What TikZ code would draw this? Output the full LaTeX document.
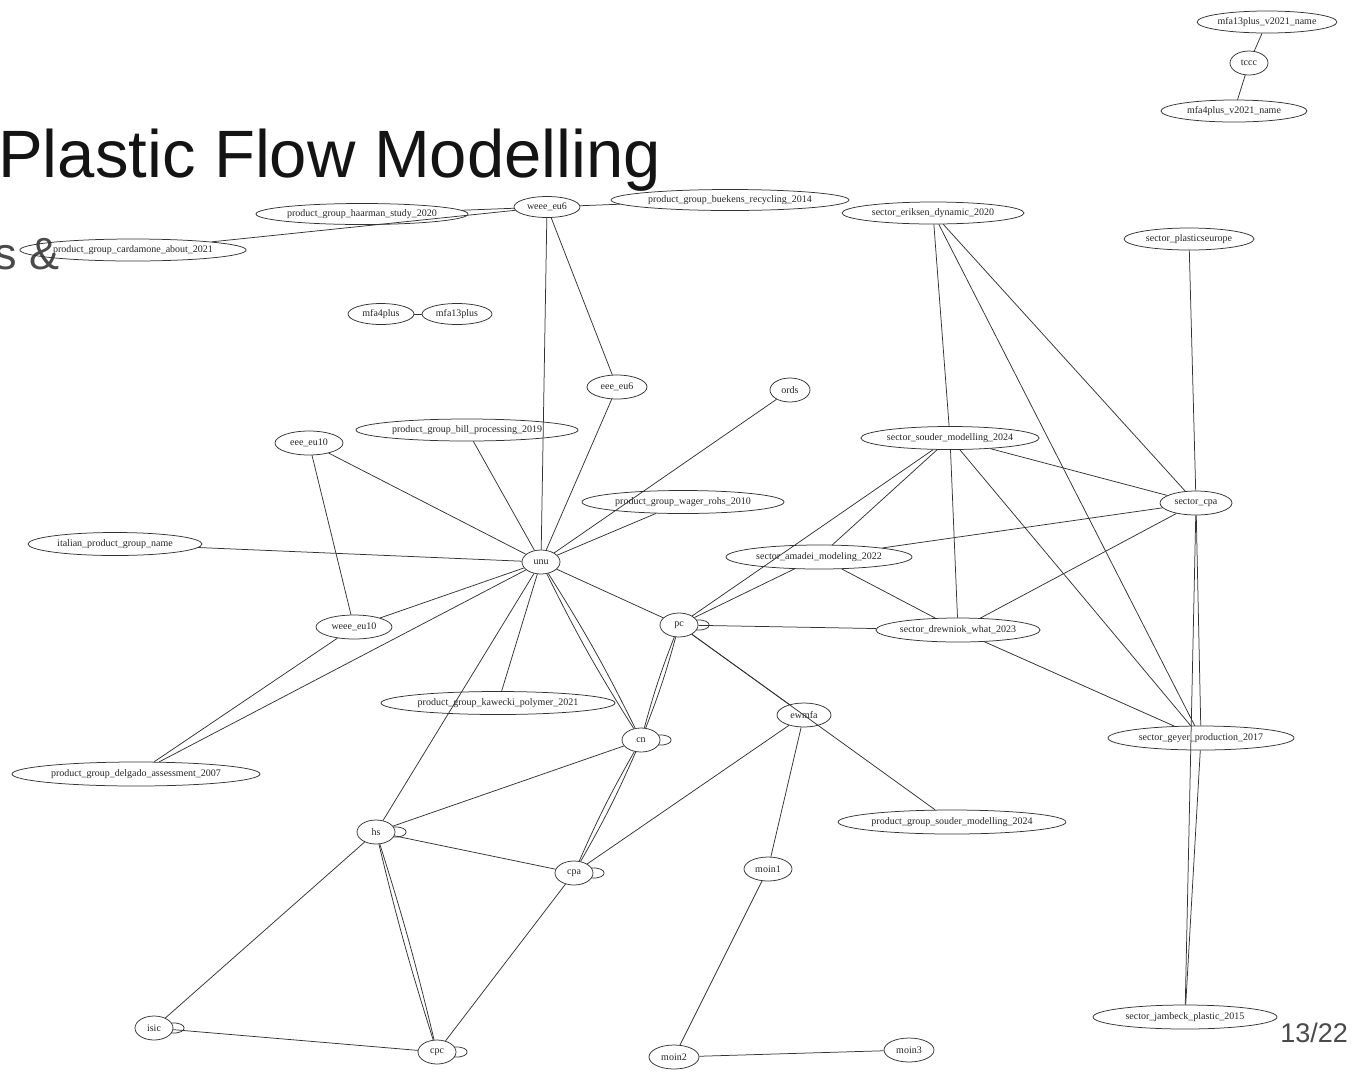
\documentclass[tikz,border=0pt]{standalone}
\usepackage{fontspec}
\setmainfont{Liberation Serif}
\newfontfamily\titlefont{Liberation Sans}
\usetikzlibrary{shapes.geometric}
\definecolor{edgecol}{HTML}{333333}
\definecolor{slidegray}{HTML}{4A4A4A}
\tikzset{
  gn/.style={ellipse, draw=edgecol, line width=0.75pt, inner sep=0pt, text=black!85, font=\fontsize{10}{12}\selectfont},
  ed/.style={draw=edgecol, line width=0.75pt},
}
\newcommand{\selfloop}[1]{\draw[ed] ([shift={(-2,-5)}]#1.east) .. controls +(17,-1) and +(17,1) .. ([shift={(-2,5)}]#1.east);}
\begin{document}
\begin{tikzpicture}[x=1pt,y=-1pt]
\fill[white] (0,0) rectangle (1357,1072);
\useasboundingbox (0,0) rectangle (1357,1072);

% slide texts
\node[anchor=base west, inner sep=0, font=\titlefont\fontsize{67}{80}\selectfont, text=black!92] (title) at (-2,177) {Plastic Flow Modelling};
\node[anchor=base west, inner sep=0, font=\titlefont\fontsize{45}{52}\selectfont, text=slidegray] (sub) at (-6,269) {s \&};
\node[anchor=base east, inner sep=0, font=\titlefont\fontsize{27}{32}\selectfont, text=slidegray] (page) at (1348,1042) {13/22};

% nodes
\node[gn, minimum width=126, minimum height=22] (m13v) at (1267,22) {mfa13plus\_v2021\_name};
\node[gn, minimum width=38, minimum height=24] (tccc) at (1249,63) {tccc};
\node[gn, minimum width=146, minimum height=22] (m4v) at (1234,111) {mfa4plus\_v2021\_name};
\node[gn, minimum width=212, minimum height=21] (haarman) at (362,214) {product\_group\_haarman\_study\_2020};
\node[gn, minimum width=66, minimum height=21] (weeeeusix) at (547,207) {weee\_eu6};
\node[gn, minimum width=238, minimum height=21] (buekens) at (730,200) {product\_group\_buekens\_recycling\_2014};
\node[gn, minimum width=218, minimum height=22] (cardamone) at (133,250) {product\_group\_cardamone\_about\_2021};
\node[gn, minimum width=182, minimum height=22] (eriksen) at (933,213) {sector\_eriksen\_dynamic\_2020};
\node[gn, minimum width=130, minimum height=22] (pleurope) at (1189,239) {sector\_plasticseurope};
\node[gn, minimum width=66, minimum height=21] (mfafour) at (381,314) {mfa4plus};
\node[gn, minimum width=70, minimum height=21] (mfathirteen) at (457,314) {mfa13plus};
\node[gn, minimum width=60, minimum height=24] (eeeeusix) at (617,387) {eee\_eu6};
\node[gn, minimum width=40, minimum height=24] (ords) at (790,390) {ords};
\node[gn, minimum width=222, minimum height=22] (bill) at (467,430) {product\_group\_bill\_processing\_2019};
\node[gn, minimum width=68, minimum height=24] (eeeeuten) at (309,443) {eee\_eu10};
\node[gn, minimum width=160, minimum height=23] (ssouder) at (950,438) {sector\_souder\_modelling\_2024};
\node[gn, minimum width=72, minimum height=24] (scpa) at (1196,503) {sector\_cpa};
\node[gn, minimum width=202, minimum height=23] (wager) at (683,502) {product\_group\_wager\_rohs\_2010};
\node[gn, minimum width=174, minimum height=23] (italian) at (115,544) {italian\_product\_group\_name};
\node[gn, minimum width=38, minimum height=24] (unu) at (541,562) {unu};
\node[gn, minimum width=186, minimum height=24] (amadei) at (819,557) {sector\_amadei\_modeling\_2022};
\node[gn, minimum width=38, minimum height=24] (pc) at (679,625) {pc};
\node[gn, minimum width=76, minimum height=24] (weeeeuten) at (354,627) {weee\_eu10};
\node[gn, minimum width=146, minimum height=24] (drewniok) at (958,630) {sector\_drewniok\_what\_2023};
\node[gn, minimum width=234, minimum height=23] (kawecki) at (498,703) {product\_group\_kawecki\_polymer\_2021};
\node[gn, minimum width=54, minimum height=24] (ewmfa) at (804,715) {ewmfa};
\node[gn, minimum width=38, minimum height=24] (cn) at (641,740) {cn};
\node[gn, minimum width=186, minimum height=24] (geyer) at (1201,738) {sector\_geyer\_production\_2017};
\node[gn, minimum width=248, minimum height=24] (delgado) at (136,774) {product\_group\_delgado\_assessment\_2007};
\node[gn, minimum width=210, minimum height=24] (psouder) at (952,822) {product\_group\_souder\_modelling\_2024};
\node[gn, minimum width=38, minimum height=24] (hs) at (376,832) {hs};
\node[gn, minimum width=38, minimum height=24] (cpa) at (574,873) {cpa};
\node[gn, minimum width=48, minimum height=24] (moinone) at (768,869) {moin1};
\node[gn, minimum width=38, minimum height=24] (isic) at (154,1028) {isic};
\node[gn, minimum width=38, minimum height=24] (cpc) at (437,1052) {cpc};
\node[gn, minimum width=50, minimum height=24] (mointwo) at (674,1057) {moin2};
\node[gn, minimum width=50, minimum height=24] (mointhree) at (909,1050) {moin3};
\node[gn, minimum width=184, minimum height=24] (jambeck) at (1185,1017) {sector\_jambeck\_plastic\_2015};

% edges
\draw[ed] (tccc) -- (m13v);
\draw[ed] (tccc) -- (m4v);
\draw[ed] (haarman) -- (weeeeusix);
\draw[ed] (cardamone) -- (weeeeusix);
\draw[ed] (weeeeusix) -- (buekens);
\draw[ed] (weeeeusix) -- (unu);
\draw[ed] (weeeeusix) -- (eeeeusix);
\draw[ed] (mfafour) -- (mfathirteen);
\draw[ed] (eeeeusix) -- (unu);
\draw[ed] (ords) -- (unu);
\draw[ed] (bill) -- (unu);
\draw[ed] (eeeeuten) -- (unu);
\draw[ed] (eeeeuten) -- (weeeeuten);
\draw[ed] (italian) -- (unu);
\draw[ed] (wager) -- (unu);
\draw[ed] (unu) -- (weeeeuten);
\draw[ed] (unu) -- (delgado);
\draw[ed] (weeeeuten) -- (delgado);
\draw[ed] (unu) -- (hs);
\draw[ed] (unu) -- (kawecki);
\draw[ed] (unu) to[bend left=3] (cn);
\draw[ed] (unu) to[bend right=3] (cn);
\draw[ed] (unu) -- (pc);
\draw[ed] (pc) -- (ssouder);
\draw[ed] (pc) -- (amadei);
\draw[ed] (ssouder) -- (amadei);
\draw[ed] (ssouder) -- (drewniok);
\draw[ed] (ssouder) -- (geyer);
\draw[ed] (ssouder) -- (scpa);
\draw[ed] (eriksen) -- (ssouder);
\draw[ed] (eriksen) -- (geyer);
\draw[ed] (eriksen) -- (scpa);
\draw[ed] (pleurope) -- (scpa);
\draw[ed] (scpa) -- (amadei);
\draw[ed] (scpa) -- (drewniok);
\draw[ed] (scpa) -- (geyer);
\draw[ed] (scpa) -- (jambeck);
\draw[ed] (geyer) -- (jambeck);
\draw[ed] (amadei) -- (drewniok);
\draw[ed] (pc) -- (drewniok);
\draw[ed] (drewniok) -- (geyer);
\draw[ed] (pc) to[bend left=3] (cn);
\draw[ed] (pc) to[bend right=3] (cn);
\draw[ed] (pc) -- (ewmfa);
\draw[ed] (pc) -- (psouder);
\draw[ed] (ewmfa) -- (moinone);
\draw[ed] (ewmfa) -- (cpa);
\draw[ed] (cn) -- (hs);
\draw[ed] (cn) to[bend left=3] (cpa);
\draw[ed] (cn) to[bend right=3] (cpa);
\draw[ed] (hs) -- (cpa);
\draw[ed] (hs) -- (isic);
\draw[ed] (hs) to[bend left=2] (cpc);
\draw[ed] (hs) to[bend right=2] (cpc);
\draw[ed] (cpa) -- (cpc);
\draw[ed] (isic) -- (cpc);
\draw[ed] (moinone) -- (mointwo);
\draw[ed] (mointwo) -- (mointhree);

% self loops
\selfloop{pc}
\selfloop{cn}
\selfloop{hs}
\selfloop{cpa}
\selfloop{isic}
\selfloop{cpc}
\end{tikzpicture}
\end{document}
